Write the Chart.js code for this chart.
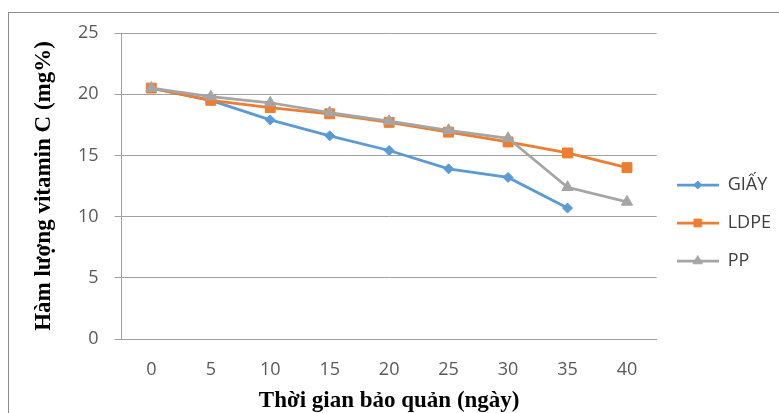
<!DOCTYPE html>
<html>
<head>
<meta charset="utf-8">
<script src="https://cdn.jsdelivr.net/npm/chart.js@4.4.1/dist/chart.umd.min.js"></script>
<style>
  html, body { margin: 0; padding: 0; background: #fff; overflow: hidden; }
  #frame { position: absolute; left: 8px; top: 12px; width: 820px; height: 460px; border: 1px solid #8c8c8c; box-sizing: border-box; }
  #wrap { position: absolute; left: 0; top: 0; width: 779px; height: 413px; }
</style>
</head>
<body>
<div id="frame"></div>
<div id="wrap"><canvas id="c" width="779" height="413"></canvas></div>
<script>
// ---- data ----
const categories = ['0', '5', '10', '15', '20', '25', '30', '35', '40'];
const giay = [20.5, 19.5, 17.9, 16.6, 15.4, 13.9, 13.2, 10.7, null];
const ldpe = [20.5, 19.5, 18.9, 18.4, 17.7, 16.9, 16.1, 15.2, 14.0];
const pp   = [20.5, 19.8, 19.3, 18.5, 17.8, 17.05, 16.4, 12.4, 11.2];
const seriesNames = ['GIẤY', 'LDPE', 'PP'];
const yTicks = [0, 5, 10, 15, 20, 25];
const yTitle = 'Hàm lượng vitamin C (mg%)';
const xTitle = 'Thời gian bảo quản (ngày)';

const colors = ['#5B9BD5', '#ED7D31', '#A5A5A5'];
const styles = ['rectRot', 'rect', 'triangle'];
const radii = [5, 7, 6.5];
const legendRadii = [4, 5.5, 5.5];

function legendIcon(i) {
  const c = document.createElement('canvas');
  c.width = 42; c.height = 14;
  const ctx = c.getContext('2d');
  ctx.strokeStyle = colors[i];
  ctx.lineWidth = 2.75;
  ctx.beginPath(); ctx.moveTo(0, 7); ctx.lineTo(42, 7); ctx.stroke();
  ctx.fillStyle = colors[i];
  ctx.lineWidth = 1;
  Chart.helpers.drawPoint(ctx, {pointStyle: styles[i], radius: legendRadii[i], borderWidth: 1, rotation: 0}, 21, 7);
  return c;
}

const seriesData = [giay, ldpe, pp];
const datasets = seriesNames.map((name, i) => ({
  label: name,
  data: seriesData[i],
  borderColor: colors[i],
  backgroundColor: colors[i],
  borderWidth: 2.75,
  pointStyle: styles[i],
  pointRadius: radii[i],
  pointHoverRadius: radii[i],
  pointBorderWidth: 1,
  tension: 0,
  spanGaps: false,
  order: 3 - i
}));

new Chart(document.getElementById('c'), {
  type: 'line',
  data: { labels: categories, datasets },
  options: {
    responsive: false,
    animation: false,
    devicePixelRatio: 1,
    layout: { padding: { left: 0, top: 33, right: -2, bottom: 0 } },
    plugins: {
      tooltip: { enabled: false },
      legend: {
        position: 'right',
        align: 'center',
        labels: {
          usePointStyle: true,
          pointStyleWidth: 42,
          padding: 20,
          color: '#404040',
          font: { family: 'Open Sans', size: 18 },
          sort: (a, b) => a.datasetIndex - b.datasetIndex,
          generateLabels: (chart) => {
            const items = Chart.defaults.plugins.legend.labels.generateLabels(chart);
            items.forEach(it => { it.pointStyle = legendIcon(it.datasetIndex); });
            return items;
          }
        }
      }
    },
    scales: {
      x: {
        offset: true,
        afterFit: (axis) => { axis.height -= 22; },
        grid: { display: false, drawTicks: false, offset: true },
        border: { display: true, color: '#a0a0a0', width: 1 },
        ticks: { color: '#595959', padding: 22, font: { family: 'Open Sans', size: 18, lineHeight: 1 } },
        title: {
          display: true, text: xTitle, color: '#000',
          font: { family: 'Liberation Serif', size: 23, weight: 'bold', lineHeight: 1 },
          padding: { top: 11, bottom: 0 }
        }
      },
      y: {
        min: 0, max: 25,
        afterBuildTicks: (axis) => { axis.ticks = yTicks.map(v => ({ value: v })); },
        grid: { color: '#a0a0a0', lineWidth: 1, drawTicks: true, tickLength: 7, tickColor: '#a0a0a0' },
        border: { display: true, color: '#a0a0a0', width: 1 },
        ticks: { color: '#595959', padding: 16, font: { family: 'Open Sans', size: 18 } },
        title: {
          display: true, text: yTitle, color: '#000',
          font: { family: 'Liberation Serif', size: 23, weight: 'bold', lineHeight: 1 },
          padding: { top: 33, bottom: 6 }
        }
      }
    }
  }
});
</script>
</body>
</html>
